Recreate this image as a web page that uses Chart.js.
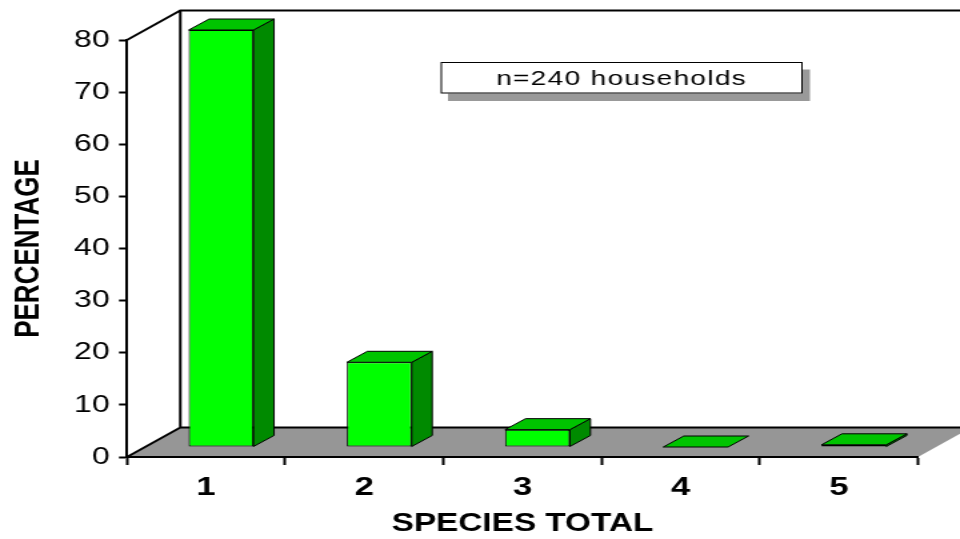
<!DOCTYPE html>
<html>
<head>
<meta charset="utf-8">
<title>Species total</title>
<script src="https://cdn.jsdelivr.net/npm/chart.js@4/dist/chart.umd.min.js"></script>
<style>
  html, body { margin: 0; padding: 0; background: #fff; overflow: hidden; }
  /* drawn at 4:3 and stretched to the wide frame */
  #wrap { width: 720px; height: 539px; transform: scale(1.3333, 1); transform-origin: 0 0; }
</style>
</head>
<body>
<div id="wrap"><canvas id="chart" width="720" height="539"></canvas></div>
<script>
const categories = ["1", "2", "3", "4", "5"];
const percentages = [80, 16.25, 3.33, 0, 0.42];
const yTicks = [0, 10, 20, 30, 40, 50, 60, 70, 80];
const sampleNote = "n=240 households";

const FONT = "'Liberation Sans', Arial, Helvetica, sans-serif";

// depth of the floor/back wall, offset of the bar row, and bar thickness
const WALL = { dx: 40, dy: -29.5 };
const BAR_SHIFT = { dx: 11.25, dy: -10 };
const BAR_DEPTH = { dx: 15.4, dy: -11 };

const pseudo3d = {
  id: "pseudo3d",
  beforeDraw(chart) {
    const { ctx, chartArea: a } = chart;
    const w = chart.width;
    ctx.save();
    // grey floor
    ctx.fillStyle = "#969696";
    ctx.beginPath();
    ctx.moveTo(a.left, a.bottom);
    ctx.lineTo(a.right, a.bottom);
    ctx.lineTo(a.right + WALL.dx, a.bottom + WALL.dy);
    ctx.lineTo(a.left + WALL.dx, a.bottom + WALL.dy);
    ctx.closePath();
    ctx.fill();
    // wall and floor edges
    ctx.strokeStyle = "#000";
    ctx.lineWidth = 2;
    ctx.beginPath();
    ctx.moveTo(a.left, a.top);
    ctx.lineTo(a.left + WALL.dx, a.top + WALL.dy);
    ctx.lineTo(w, a.top + WALL.dy);
    ctx.moveTo(a.left + WALL.dx, a.top + WALL.dy);
    ctx.lineTo(a.left + WALL.dx, a.bottom + WALL.dy);
    ctx.lineTo(w, a.bottom + WALL.dy);
    ctx.moveTo(a.left, a.bottom);
    ctx.lineTo(a.left + WALL.dx, a.bottom + WALL.dy);
    ctx.stroke();
    ctx.restore();
  },
  beforeDatasetsDraw(chart) {
    chart.ctx.save();
    chart.ctx.translate(BAR_SHIFT.dx, BAR_SHIFT.dy);
  },
  afterDatasetsDraw(chart) {
    const ctx = chart.ctx;
    ctx.lineWidth = 1;
    ctx.strokeStyle = "#000";
    chart.getDatasetMeta(0).data.forEach(bar => {
      const { x, y, base, width } = bar.getProps(["x", "y", "base", "width"], true);
      const l = x - width / 2, r = x + width / 2;
      // side face
      if (base - y > 0.5) {
        ctx.fillStyle = "#008a00";
        ctx.beginPath();
        ctx.moveTo(r, y);
        ctx.lineTo(r, base);
        ctx.lineTo(r + BAR_DEPTH.dx, base + BAR_DEPTH.dy);
        ctx.lineTo(r + BAR_DEPTH.dx, y + BAR_DEPTH.dy);
        ctx.closePath();
        ctx.fill();
        ctx.stroke();
      }
      // top face
      ctx.fillStyle = "#00c400";
      ctx.beginPath();
      ctx.moveTo(l, y);
      ctx.lineTo(r, y);
      ctx.lineTo(r + BAR_DEPTH.dx, y + BAR_DEPTH.dy);
      ctx.lineTo(l + BAR_DEPTH.dx, y + BAR_DEPTH.dy);
      ctx.closePath();
      ctx.fill();
      ctx.stroke();
    });
    ctx.restore();
  },
  afterDraw(chart) {
    const ctx = chart.ctx;
    const bx = 330.5, by = 62, bw = 271.5, bh = 31.5;
    ctx.save();
    ctx.fillStyle = "#999";
    ctx.fillRect(bx + 5.5, by + 7.5, bw, bh);
    ctx.fillStyle = "#fff";
    ctx.fillRect(bx, by, bw, bh);
    ctx.strokeStyle = "#000";
    ctx.lineWidth = 1;
    ctx.strokeRect(bx + 0.5, by + 0.5, bw - 1, bh - 1);
    ctx.fillStyle = "#000";
    ctx.font = "21px " + FONT;
    ctx.letterSpacing = "1px";
    ctx.textAlign = "center";
    ctx.textBaseline = "middle";
    ctx.fillText(sampleNote, bx + bw / 2, by + bh / 2 + 1);
    ctx.restore();
  }
};

new Chart(document.getElementById("chart"), {
  type: "bar",
  data: {
    labels: categories,
    datasets: [{
      data: percentages,
      backgroundColor: "#00ff00",
      borderColor: "#000",
      borderWidth: 1,
      borderSkipped: false,
      categoryPercentage: 1,
      barPercentage: 0.41,
      clip: false
    }]
  },
  options: {
    responsive: false,
    animation: false,
    events: [],
    layout: { padding: { left: 0, top: 40, right: 31.5, bottom: 0 } },
    plugins: { legend: { display: false }, tooltip: { enabled: false } },
    scales: {
      x: {
        afterFit: s => { s.height = 82; },
        grid: { drawOnChartArea: false, tickLength: 8, tickColor: "#000", tickWidth: 2 },
        border: { color: "#000", width: 2 },
        ticks: { color: "#000", padding: 7, font: { family: FONT, size: 26, weight: "bold" } },
        title: {
          display: true,
          text: "SPECIES TOTAL",
          color: "#000",
          padding: { top: 0, bottom: 0 },
          font: { family: FONT, size: 25, weight: "bold" }
        }
      },
      y: {
        min: yTicks[0],
        max: yTicks[yTicks.length - 1],
        afterFit: s => { s.width = 95.25; },
        afterBuildTicks: s => { s.ticks = yTicks.map(v => ({ value: v })); },
        grid: { drawOnChartArea: false, tickLength: 6, tickColor: "#000", tickWidth: 2 },
        border: { color: "#000", width: 2 },
        ticks: { color: "#000", padding: 7, font: { family: FONT, size: 24 } },
        title: {
          display: true,
          text: "PERCENTAGE",
          color: "#000",
          padding: { top: 6, bottom: 0 },
          font: { family: FONT, size: 26, weight: "bold" }
        }
      }
    }
  },
  plugins: [pseudo3d]
});
</script>
</body>
</html>
